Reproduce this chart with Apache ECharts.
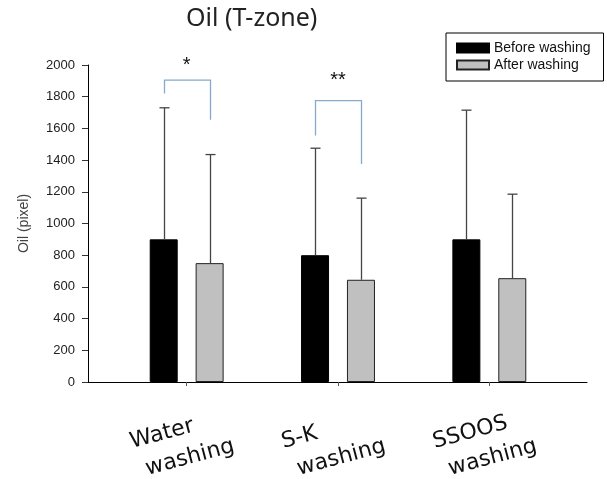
<!DOCTYPE html>
<html><head><meta charset="utf-8">
<script src="https://cdn.jsdelivr.net/npm/echarts@6/dist/echarts.min.js"></script>
<style>html,body{margin:0;padding:0;background:#fff}#c{width:607px;height:479px}</style>
</head><body><div id="c"></div>
<script>
// ---- data ----
const categories = ['Water\nwashing', 'S-K\nwashing', 'SSOOS\nwashing'];
const seriesNames = ['Before washing', 'After washing'];
const beforeMean = [900, 800, 900];
const beforeSD = [830, 675, 815];
const afterMean = [750, 645, 655];
const afterSD = [685, 515, 530];
const yMin = 0, yMax = 2000, yInterval = 200;
// significance brackets
const bracketCat = [0, 1];
const bracketLeftEnd = [1820, 1555];
const bracketTop = [1905, 1775];
const bracketRightEnd = [1655, 1375];
const bracketStarValue = [1995, 1905];
const bracketLabel = ['*', '**'];

// ---- style constants ----
const BAR_W = 28, BAR_GAP = 0.64, CAP = 10;
const BAR_OFFSET = BAR_W * (1 + BAR_GAP) / 2;

function errorSeries(means, sds, side) {
  return {
    type: 'custom', xAxisIndex: 1, yAxisIndex: 1, silent: true, z: 3,
    data: means.map((m, i) => [i, m, m + sds[i]]),
    renderItem(params, api) {
      const c = api.value(0);
      const base = api.coord([c, api.value(1)]);
      const top = api.coord([c, api.value(2)]);
      const x = Math.round(base[0] + side * BAR_OFFSET) + 0.5;
      const st = { stroke: '#444', lineWidth: 1.3 };
      return { type: 'group', children: [
        { type: 'line', shape: { x1: x, y1: base[1], x2: x, y2: top[1] }, style: st },
        { type: 'line', shape: { x1: x - CAP / 2, y1: top[1], x2: x + CAP / 2, y2: top[1] }, style: st }
      ] };
    }
  };
}

const bracketData = bracketCat.map((c, i) => [c, bracketLeftEnd[i], bracketTop[i], bracketRightEnd[i], bracketStarValue[i]]);

const chart = echarts.init(document.getElementById('c'), null, { renderer: 'canvas' });
chart.setOption({
  animation: false,
  backgroundColor: '#fff',
  title: {
    text: 'Oil (T-zone)', left: 181, top: 1,
    textStyle: { fontFamily: 'Noto Sans', fontSize: 25, fontWeight: 'normal', color: '#222' }
  },
  legend: {
    data: seriesNames, orient: 'vertical', left: 446, top: 33,
    padding: [8, 13, 9, 10], itemWidth: 32, itemHeight: 9, itemGap: 3,
    borderColor: '#000', borderWidth: 1, icon: 'rect',
    textStyle: { fontFamily: 'Liberation Sans', fontSize: 14, color: '#111' }
  },
  grid: [
    { left: 83, right: 20, top: 65, bottom: 97, containLabel: false, outerBoundsMode: 'none' },
    { left: 111, right: 42, top: 65, bottom: 97, containLabel: false, outerBoundsMode: 'none' }
  ],
  xAxis: [
    { type: 'value', gridIndex: 0, min: 0, max: 1, axisLine: { lineStyle: { color: '#000', width: 1 } },
      axisTick: { show: false }, axisLabel: { show: false }, splitLine: { show: false } },
    { type: 'category', gridIndex: 1, data: categories,
      axisLine: { show: false },
      axisTick: { show: true, alignWithLabel: true, length: 4, lineStyle: { color: '#555' } },
      axisLabel: { interval: 0, rotate: 15, align: 'center', verticalAlign: 'middle', margin: 61,
        formatter: (v) => { const p = v.split('\n'); return '{a|' + p[0] + '}\n{b|' + p[1] + '}'; },
        rich: {
          a: { width: 108, align: 'left', fontFamily: 'DejaVu Sans', fontSize: 22, lineHeight: 30, color: '#111' },
          b: { width: 100, align: 'left', padding: [0, 0, 0, 8], fontFamily: 'DejaVu Sans', fontSize: 22, lineHeight: 30, color: '#111' }
        } } }
  ],
  yAxis: [
    { type: 'value', gridIndex: 0, min: yMin, max: yMax, interval: yInterval, offset: -5,
      name: 'Oil (pixel)', nameLocation: 'middle', nameGap: 57,
      nameTextStyle: { fontFamily: 'Liberation Sans', fontSize: 14, color: '#444' },
      axisLine: { show: true, lineStyle: { color: '#000', width: 1 } },
      axisTick: { show: true, length: 6, lineStyle: { color: '#333' } },
      axisLabel: { margin: 13, fontFamily: 'Liberation Sans', fontSize: 13, color: '#222', formatter: (v) => String(v) },
      splitLine: { show: false } },
    { type: 'value', gridIndex: 1, min: yMin, max: yMax, interval: yInterval, show: false }
  ],
  series: [
    { name: seriesNames[0], type: 'bar', xAxisIndex: 1, yAxisIndex: 1, data: beforeMean,
      barWidth: BAR_W, barGap: (BAR_GAP * 100) + '%',
      itemStyle: { color: '#000', borderColor: '#000', borderWidth: 1 } },
    { name: seriesNames[1], type: 'bar', xAxisIndex: 1, yAxisIndex: 1, data: afterMean,
      barWidth: BAR_W, barGap: (BAR_GAP * 100) + '%',
      itemStyle: { color: '#c0c0c0', borderColor: '#222', borderWidth: 1 } },
    errorSeries(beforeMean, beforeSD, -1),
    errorSeries(afterMean, afterSD, 1),
    {
      type: 'custom', xAxisIndex: 1, yAxisIndex: 1, silent: true, z: 4, clip: false,
      data: bracketData,
      renderItem(params, api) {
        const c = api.value(0);
        const l = api.coord([c, api.value(1)]);
        const t = api.coord([c, api.value(2)]);
        const r = api.coord([c, api.value(3)]);
        const s = api.coord([c, api.value(4)]);
        const xl = Math.round(l[0] - BAR_OFFSET) + 0.5, xr = Math.round(l[0] + BAR_OFFSET) + 0.5;
        const st = { stroke: '#86a9cc', lineWidth: 1.3, fill: null };
        return { type: 'group', children: [
          { type: 'polyline', shape: { points: [[xl, l[1]], [xl, t[1]], [xr, t[1]], [xr, r[1]]] }, style: st },
          { type: 'text', x: s[0], y: s[1], style: { text: bracketLabel[params.dataIndex], align: 'center', verticalAlign: 'middle',
            font: '20px "Liberation Sans"', fill: '#111' } }
        ] };
      }
    }
  ]
});
</script></body></html>
